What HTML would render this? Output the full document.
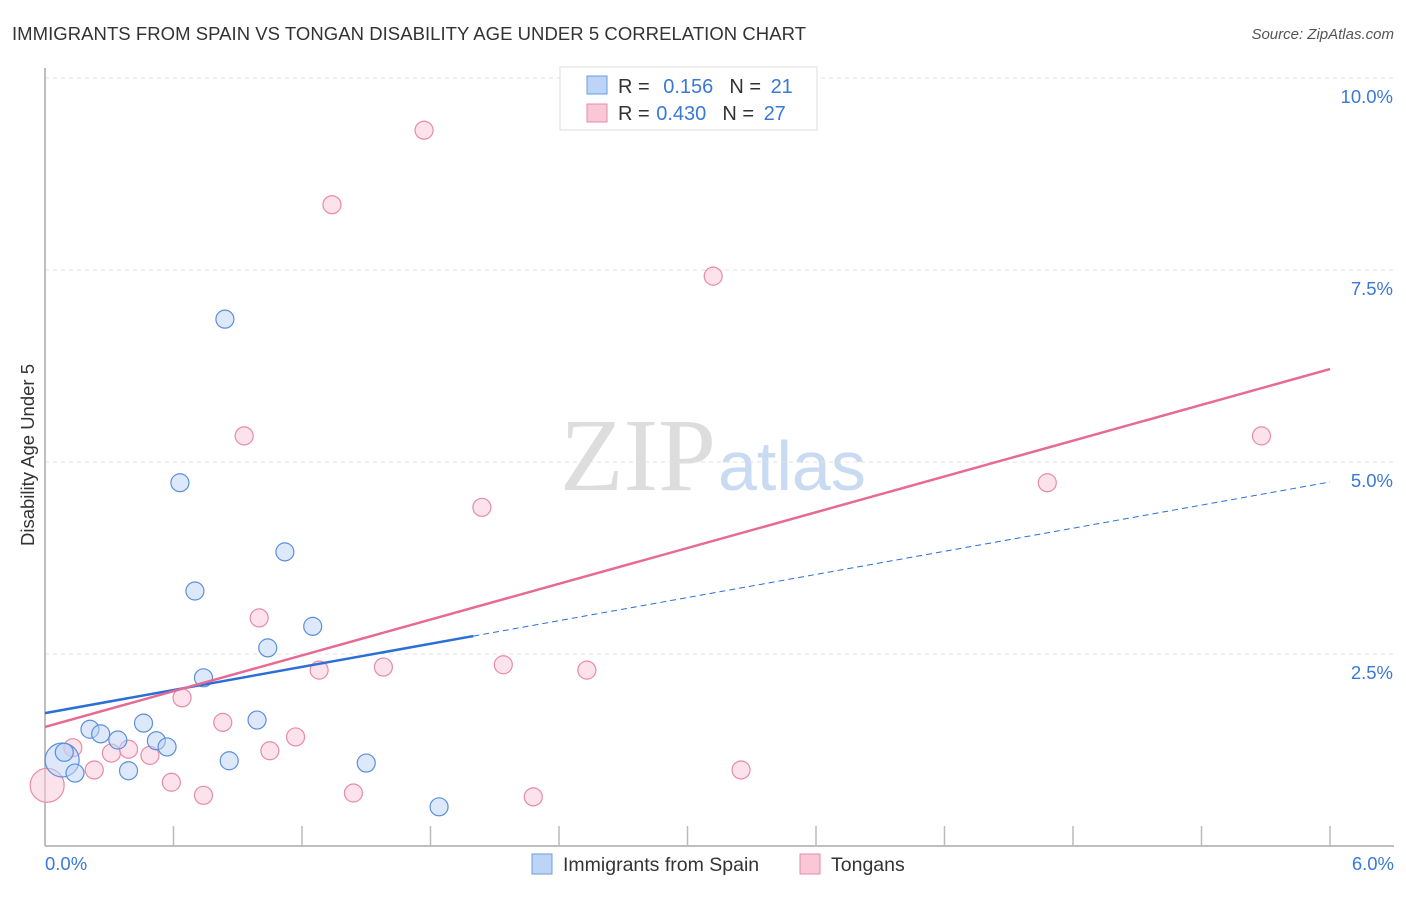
<!DOCTYPE html>
<html><head><meta charset="utf-8"><style>
body{margin:0;background:#fff;width:1406px;height:892px;overflow:hidden;font-family:"Liberation Sans",sans-serif}
</style></head><body>
<svg id="c" width="1406" height="892" xmlns="http://www.w3.org/2000/svg">
<text x="12" y="40" font-size="18.5" fill="#333" textLength="794">IMMIGRANTS FROM SPAIN VS TONGAN DISABILITY AGE UNDER 5 CORRELATION CHART</text>
<text x="1394" y="39" font-size="15" fill="#555" text-anchor="end" font-style="italic">Source: ZipAtlas.com</text>
<text x="716" y="490" font-size="104" fill="#ddd" text-anchor="end" font-family="Liberation Serif,serif">ZIP</text>
<text x="718" y="490" font-size="70" fill="#c9daf3">atlas</text>
<text transform="translate(34,455) rotate(-90)" font-size="18.5" fill="#333" text-anchor="middle">Disability Age Under 5</text>
<g id="grid"></g><g id="marks"></g>
<g>
<rect x="560" y="67" width="257" height="63" fill="#fff" stroke="#ddd"/>
<rect x="587" y="76" width="20" height="18" fill="#bcd4f6" stroke="#6a9be0"/>
<rect x="587" y="104" width="20" height="18" fill="#f9c8d7" stroke="#e88aa8"/>
<text x="618" y="93" font-size="20" fill="#333">R = <tspan fill="#3a78d6" dx="8">0.156</tspan><tspan fill="#333" dx="16">N = </tspan><tspan fill="#3a78d6" dx="4">21</tspan></text>
<text x="618" y="120" font-size="20" fill="#333">R = <tspan fill="#3a78d6" dx="1">0.430</tspan><tspan fill="#333" dx="16">N = </tspan><tspan fill="#3a78d6" dx="4">27</tspan></text>
</g>
<g>
<rect x="532" y="854" width="20" height="20" fill="#bcd4f6" stroke="#6a9be0"/>
<text x="563" y="871" font-size="19.5" fill="#333">Immigrants from Spain</text>
<rect x="800" y="854" width="20" height="20" fill="#f9c8d7" stroke="#e88aa8"/>
<text x="831" y="871" font-size="19.5" fill="#333">Tongans</text>
</g>
</svg>
<script>
const blueX=[0.08,0.14,0.09,0.21,0.26,0.34,0.39,0.46,0.52,0.57,0.63,0.70,0.74,0.84,0.86,0.99,1.04,1.12,1.25,1.50,1.84];
const blueY=[1.12,0.95,1.22,1.52,1.46,1.38,0.98,1.60,1.37,1.29,4.73,3.32,2.19,6.86,1.11,1.64,2.58,3.83,2.86,1.08,0.51];
const pinkX=[0.01,0.13,0.23,0.31,0.39,0.49,0.59,0.64,0.74,0.83,0.93,1.00,1.05,1.17,1.28,1.34,1.44,1.58,1.77,2.04,2.14,2.28,2.53,3.12,3.25,4.68,5.68];
const pinkY=[0.79,1.28,0.99,1.21,1.26,1.18,0.83,1.93,0.66,1.61,5.34,2.97,1.24,1.42,2.29,8.35,0.69,2.33,9.32,4.41,2.36,0.64,2.29,7.42,0.99,4.73,5.34];
const yTicks=[2.5,5.0,7.5,10.0];
const yTickLabels=["2.5%","5.0%","7.5%","10.0%"];
const blueTrend=[1.73,4.74];
const pinkTrend=[1.55,6.21];
const X=v=>45+v/6*1285, Y=v=>846-v/10*768;
const NS="http://www.w3.org/2000/svg";
function mk(t,a,p){const e=document.createElementNS(NS,t);for(const k in a)e.setAttribute(k,a[k]);p.appendChild(e);return e;}
const g=document.getElementById('grid'), m=document.getElementById('marks');
yTicks.forEach((t,i)=>{
 const l=mk('line',{x1:45,x2:1394,y1:Y(t),y2:Y(t),stroke:'#e2e2e2','stroke-dasharray':'4,4'},g);
 
 
 const tx=mk('text',{x:1393,y:Y(t)+25,'font-size':18.5,fill:'#3a78d6','text-anchor':'end'},g);
 tx.textContent=yTickLabels[i];
 
 
});
const ax=mk('line',{x1:45,x2:1394,y1:846,y2:846,stroke:'#aaa','stroke-width':1.5},g);


const ay=mk('line',{x1:45,x2:45,y1:68,y2:846,stroke:'#aaa','stroke-width':1.5},g);


for(let i=1;i<=10;i++){const tk=mk('line',{x1:X(i*0.6),x2:X(i*0.6),y1:826,y2:846,stroke:'#bbb','stroke-width':1.5},g);
 
 }
[["0.0%",45,'start'],["6.0%",1394,'end']].forEach(([s,x,a])=>{const t=mk('text',{x:x,y:870,'font-size':18.5,fill:'#3a78d6','text-anchor':a},g);t.textContent=s;
 
 });
function dots(xs,ys,f,s,name){xs.forEach((x,i)=>{const r=i===0?17:9;const c=mk('circle',{cx:X(x),cy:Y(ys[i]),r:r,fill:f,'fill-opacity':0.5,stroke:s,'stroke-width':1.2},m);
 
 });}
dots(pinkX,pinkY,'#f9c8d7','#e88aa8','point-tongans');
dots(blueX,blueY,'#bcd4f6','#5b8fdb','point-spain');
const bv=x=>blueTrend[0]+(blueTrend[1]-blueTrend[0])*x/6;
const b1=mk('line',{x1:X(0),y1:Y(bv(0)),x2:X(2.0),y2:Y(bv(2.0)),stroke:'#2b6fd6','stroke-width':2.5},m);


const b2=mk('line',{x1:X(2.0),y1:Y(bv(2.0)),x2:X(6),y2:Y(bv(6)),stroke:'#2b6fd6','stroke-width':1,'stroke-dasharray':'6,4'},m);


const p1=mk('line',{x1:X(0),y1:Y(pinkTrend[0]),x2:X(6),y2:Y(pinkTrend[1]),stroke:'#e66a93','stroke-width':2.5},m);


</script>
</body></html>
